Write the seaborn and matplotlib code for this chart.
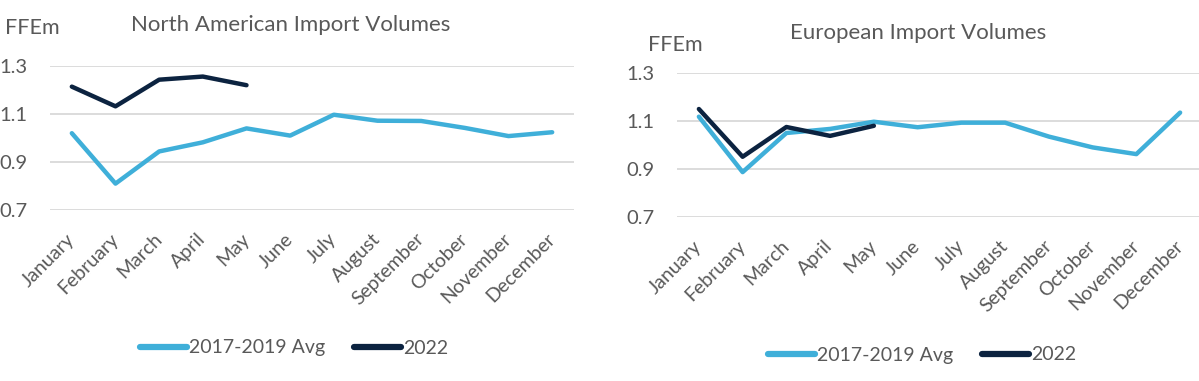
import matplotlib
matplotlib.use("Agg")
import matplotlib.pyplot as plt
import seaborn as sns
import pandas as pd
from matplotlib.lines import Line2D

months = ["January", "February", "March", "April", "May", "June", "July",
          "August", "September", "October", "November", "December"]

na_avg = [1.02, 0.81, 0.944, 0.982, 1.04, 1.01, 1.097, 1.072, 1.071, 1.042, 1.008, 1.024]
na_2022 = [1.214, 1.132, 1.243, 1.256, 1.22]
eu_avg = [1.118, 0.887, 1.05, 1.067, 1.097, 1.074, 1.093, 1.093, 1.035, 0.99, 0.962, 1.135]
eu_2022 = [1.15, 0.951, 1.075, 1.038, 1.08]
yticks = [0.7, 0.9, 1.1, 1.3]
series_names = ["2017-2019 Avg", "2022"]
titles = ["North American Import Volumes", "European Import Volumes"]

BLUE = "#3fafd9"
NAVY = "#0c2340"
GREY = "#595959"

sns.set_style("white")
plt.rcParams["font.family"] = ["Lato", "DejaVu Sans"]

W, H = 1199, 381
fig = plt.figure(figsize=(W / 100, H / 100), dpi=100)

def mk(avg, y2022):
    df = pd.DataFrame({
        "month": months + months[:len(y2022)],
        "value": avg + y2022,
        "series": [series_names[0]] * len(avg) + [series_names[1]] * len(y2022),
    })
    return df

panels = [
    dict(avg=na_avg, y22=na_2022, rect=[50 / W, 1 - 210 / H, 524 / W, 144 / H],
         title=titles[0], tx=291, ty=25, fx=5, fy=28, lx=294, ly=348),
    dict(avg=eu_avg, y22=eu_2022, rect=[677 / W, 1 - 217 / H, 525 / W, 144 / H],
         title=titles[1], tx=918, ty=33, fx=648, fy=45, lx=922, ly=355),
]

for p in panels:
    ax = fig.add_axes(p["rect"])
    df = mk(p["avg"], p["y22"])
    df["x"] = df["month"].map({m: i for i, m in enumerate(months)})
    sns.lineplot(data=df, x="x", y="value", hue="series",
                 palette={series_names[0]: BLUE, series_names[1]: NAVY},
                 linewidth=3.2, ax=ax, legend=False, sort=False)
    ax.set_xlim(-0.5, 11.5)
    ax.set_ylim(0.7, 1.3)
    ax.set_yticks(yticks)
    ax.set_yticklabels([f"{v:.1f}" for v in yticks], fontsize=14.5, color=GREY)
    ax.set_xticks(range(12))
    ax.set_xticklabels(months, rotation=45, ha="right", va="center",
                       rotation_mode="anchor", fontsize=14, color=GREY)
    ax.tick_params(axis="x", length=0, pad=19)
    ax.tick_params(axis="y", length=0, pad=16)
    ax.grid(axis="y", color="#d9d9d9", linewidth=1.3)
    ax.set_axisbelow(True)
    for s in ax.spines.values():
        s.set_visible(False)
    ax.set_xlabel("")
    ax.set_ylabel("")
    fig.text(p["tx"] / W, 1 - p["ty"] / H, p["title"], ha="center", va="center",
             fontsize=16, color=GREY)
    fig.text(p["fx"] / W, 1 - p["fy"] / H, "FFEm", ha="left", va="center",
             fontsize=15.5, color=GREY)
    handles = [Line2D([], [], color=BLUE, lw=4.5), Line2D([], [], color=NAVY, lw=4.5)]
    fig.legend(handles, series_names, loc="center",
               bbox_to_anchor=(p["lx"] / W, 1 - p["ly"] / H), ncol=2, frameon=False,
               fontsize=14, labelcolor=GREY, handlelength=2.4, handletextpad=0.1,
               columnspacing=1.5)

fig.savefig("out.png", dpi=100)
